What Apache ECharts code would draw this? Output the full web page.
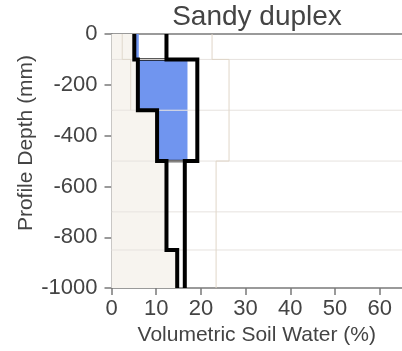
<!DOCTYPE html>
<html><head><meta charset="utf-8">
<script src="https://cdn.jsdelivr.net/npm/echarts@6/dist/echarts.min.js"></script>
<style>html,body{margin:0;padding:0;background:#fff}#c{width:402px;height:351px}</style>
</head><body><div id="c"></div>
<script>
// Soil layers (mm)
const layerTops = [0, 100, 300, 500, 700, 850];
const layerBottoms = [100, 300, 500, 700, 850, 1000];
// Volumetric soil water (%)
const lowerLimit = [5.1, 5.9, 10.2, 12.3, 12.3, 14.7];
const upperLimit = [12.3, 19.2, 19.2, 16.4, 16.4, 16.4];
const soilWater = [6.1, 17.0, 17.0, null, null, null];
const airDry = [2.4, 4.3];
const saturation = [22.5, 26.3, 26.3, 23.4, 23.4, 23.4];
const xTicks = [0, 10, 20, 30, 40, 50, 60];
const yTicks = [0, -200, -400, -600, -800, -1000];
const titleText = 'Sandy duplex';
const xName = 'Volumetric Soil Water (%)';
const yName = 'Profile Depth (mm)';

const FONT = '"Liberation Sans", Arial, Helvetica, sans-serif';
const TXT = '#444';
const AX = '#7a7a7a';

function stepPoints(vals) {
  const pts = [];
  vals.forEach((v, i) => {
    if (v == null) return;
    pts.push([v, -layerTops[i]]);
    pts.push([v, -layerBottoms[i]]);
  });
  return pts;
}

const beigeData = layerTops.map((t, i) => [0, lowerLimit[i], -t, -layerBottoms[i], 0, 0]);
const blueData = [];
soilWater.forEach((v, i) => {
  if (v != null && v > lowerLimit[i]) {
    const prev = i > 0 ? soilWater[i - 1] : v;
    const next = i < soilWater.length - 1 ? soilWater[i + 1] : null;
    const topEdge = (i > 0 && prev !== v) ? 1 : 0;
    const bottomEdge = (next == null) ? 1 : 0;
    blueData.push([lowerLimit[i], v, -layerTops[i], -layerBottoms[i], topEdge, bottomEdge]);
  }
});
const boundaryData = layerBottoms.slice(0, -1).map(b => [0, -b]);

function rectItem(fill) {
  return function (params, api) {
    const p0 = api.coord([api.value(0), api.value(2)]);
    const p1 = api.coord([api.value(1), api.value(3)]);
    const children = [{
      type: 'rect',
      shape: { x: p0[0], y: p0[1], width: p1[0] - p0[0], height: p1[1] - p0[1] },
      style: { fill: fill }
    }];
    if (api.value(4)) {
      children.push({ type: 'line', shape: { x1: p0[0], y1: p0[1], x2: p1[0], y2: p0[1] }, style: { stroke: '#111', lineWidth: 2.5 } });
    }
    if (api.value(5)) {
      children.push({ type: 'line', shape: { x1: p0[0], y1: p1[1], x2: p1[0], y2: p1[1] }, style: { stroke: '#111', lineWidth: 2.5 } });
    }
    return { type: 'group', children: children };
  };
}

const chart = echarts.init(document.getElementById('c'));
chart.setOption({
  animation: false,
  backgroundColor: '#fff',
  grid: { left: 111.5, right: 0, top: 34, bottom: 60, containLabel: false },
  xAxis: [{
    type: 'value', min: 0, max: 65, position: 'bottom',
    axisLine: { show: true, onZero: false, lineStyle: { color: AX, width: 1.5 } },
    axisTick: { show: true, length: 7, customValues: xTicks, lineStyle: { color: AX, width: 1.5 } },
    axisLabel: { customValues: xTicks, fontSize: 22, color: TXT, margin: 10, fontFamily: FONT },
    splitLine: { show: false },
    name: xName, nameLocation: 'middle', nameGap: 36,
    nameTextStyle: { fontSize: 21, color: TXT, fontFamily: FONT }
  }, {
    type: 'value', min: 0, max: 65, position: 'top',
    axisLine: { show: true, onZero: false, lineStyle: { color: AX, width: 1.5 } },
    axisTick: { show: false }, axisLabel: { show: false }, splitLine: { show: false }
  }],
  yAxis: {
    type: 'value', min: -1000, max: 0, interval: 200,
    axisLine: { show: true, onZero: false, lineStyle: { color: AX, width: 1.5 } },
    axisTick: { show: true, length: 7, customValues: yTicks, lineStyle: { color: AX, width: 1.5 } },
    axisLabel: { customValues: yTicks, fontSize: 22, color: TXT, margin: 14, fontFamily: FONT, formatter: v => String(v) },
    splitLine: { show: false }
  },
  graphic: [
    { type: 'text', x: 257, y: 17, style: { text: titleText, font: '28px ' + FONT, fill: TXT, align: 'center', verticalAlign: 'middle' } },
    { type: 'text', x: 26.5, y: 143, rotation: Math.PI / 2, style: { text: yName, font: '21px ' + FONT, fill: TXT, align: 'center', verticalAlign: 'middle' } }
  ],
  series: [
    { type: 'custom', name: 'below LL', renderItem: rectItem('#f7f4ef'), data: beigeData, encode: { x: [0, 1], y: [2, 3] }, z: 1, silent: true },
    { type: 'custom', name: 'soil water', renderItem: rectItem('#7095ef'), data: blueData, encode: { x: [0, 1], y: [2, 3] }, z: 2, silent: true },
    { type: 'custom', name: 'layers', renderItem: function (params, api) {
        const a = api.coord([0, api.value(1)]);
        const b = api.coord([65, api.value(1)]);
        return { type: 'line', shape: { x1: a[0], y1: a[1], x2: b[0], y2: b[1] }, style: { stroke: '#e6e2de', lineWidth: 1 } };
      }, data: boundaryData, encode: { x: 0, y: 1 }, z: 3, silent: true },
    { type: 'line', name: 'air dry', data: stepPoints(airDry), showSymbol: false, symbol: 'none', lineStyle: { color: '#e0d8cc', width: 1 }, z: 4, silent: true },
    { type: 'line', name: 'saturation', data: stepPoints(saturation), showSymbol: false, symbol: 'none', lineStyle: { color: '#e0d6c8', width: 1 }, z: 4, silent: true },
    { type: 'line', name: 'LL', data: stepPoints(lowerLimit), showSymbol: false, symbol: 'none', lineStyle: { color: '#000', width: 4, join: 'miter', cap: 'butt' }, z: 5, silent: true },
    { type: 'line', name: 'DUL', data: stepPoints(upperLimit), showSymbol: false, symbol: 'none', lineStyle: { color: '#000', width: 4, join: 'miter', cap: 'butt' }, z: 5, silent: true }
  ]
});
</script>
</body></html>
